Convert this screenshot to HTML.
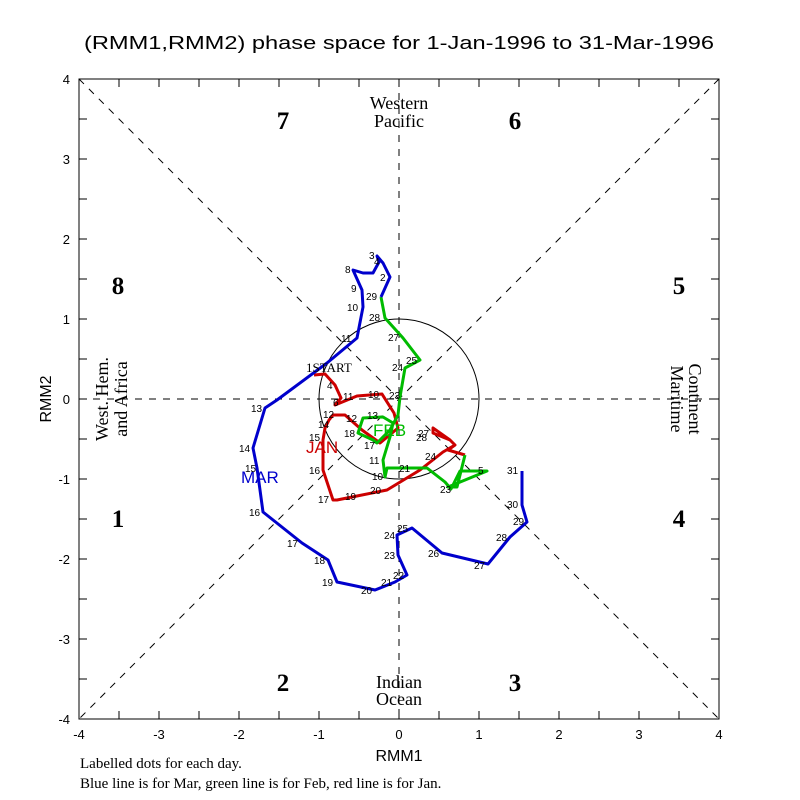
<!DOCTYPE html>
<html><head><meta charset="utf-8"><style>
html,body{margin:0;padding:0;background:#fff;}
svg{display:block;}
.t{font-family:"Liberation Sans",sans-serif;}
.s{font-family:"Liberation Serif",serif;}
.d{font-family:"Liberation Sans",sans-serif;font-size:10px;}
</style></head><body>
<svg width="800" height="800" viewBox="0 0 800 800" xmlns="http://www.w3.org/2000/svg">
<rect width="800" height="800" fill="#fff"/>
<text x="84" y="49" class="t" font-size="18" textLength="630" lengthAdjust="spacingAndGlyphs">(RMM1,RMM2) phase space for  1-Jan-1996 to 31-Mar-1996</text>
<g stroke="#000" stroke-width="1" fill="none">
<rect x="79" y="79" width="640" height="640"/>
<g stroke-dasharray="7,7">
<line x1="79" y1="79" x2="719" y2="719"/>
<line x1="719" y1="79" x2="79" y2="719"/>
<line x1="399" y1="79" x2="399" y2="719"/>
<line x1="79" y1="399" x2="719" y2="399"/>
</g>
<circle cx="399" cy="399" r="80"/>
<path d="M119 719v-8M159 719v-8M199 719v-8M239 719v-8M279 719v-8M319 719v-8M359 719v-8M399 719v-8M439 719v-8M479 719v-8M519 719v-8M559 719v-8M599 719v-8M639 719v-8M679 719v-8
M119 79v8M159 79v8M199 79v8M239 79v8M279 79v8M319 79v8M359 79v8M399 79v8M439 79v8M479 79v8M519 79v8M559 79v8M599 79v8M639 79v8M679 79v8
M79 119h8M79 159h8M79 199h8M79 239h8M79 279h8M79 319h8M79 359h8M79 399h8M79 439h8M79 479h8M79 519h8M79 559h8M79 599h8M79 639h8M79 679h8
M719 119h-8M719 159h-8M719 199h-8M719 239h-8M719 279h-8M719 319h-8M719 359h-8M719 399h-8M719 439h-8M719 479h-8M719 519h-8M719 559h-8M719 599h-8M719 639h-8M719 679h-8"/>
</g>
<g class="t" font-size="13" text-anchor="middle">
<text x="79" y="739">-4</text><text x="159" y="739">-3</text><text x="239" y="739">-2</text><text x="319" y="739">-1</text><text x="399" y="739">0</text><text x="479" y="739">1</text><text x="559" y="739">2</text><text x="639" y="739">3</text><text x="719" y="739">4</text>
</g>
<g class="t" font-size="13" text-anchor="end">
<text x="70" y="84">4</text><text x="70" y="164">3</text><text x="70" y="244">2</text><text x="70" y="324">1</text><text x="70" y="404">0</text><text x="70" y="484">-1</text><text x="70" y="564">-2</text><text x="70" y="644">-3</text><text x="70" y="724">-4</text>
</g>
<text x="399" y="761" class="t" font-size="16" text-anchor="middle">RMM1</text>
<text transform="translate(51,399) rotate(-90)" class="t" font-size="16" text-anchor="middle">RMM2</text>
<g class="s" font-size="25" font-weight="bold" text-anchor="middle">
<text x="283" y="129">7</text><text x="515" y="129">6</text><text x="118" y="294">8</text><text x="679" y="294">5</text>
<text x="118" y="527">1</text><text x="679" y="527">4</text><text x="283" y="691">2</text><text x="515" y="691">3</text>
</g>
<g class="s" font-size="18" text-anchor="middle">
<text x="399" y="109">Western</text><text x="399" y="127">Pacific</text>
<text x="399" y="688">Indian</text><text x="399" y="705">Ocean</text>
<text transform="translate(108,399) rotate(-90)">West. Hem.</text>
<text transform="translate(127,399) rotate(-90)">and Africa</text>
<text transform="translate(671,399) rotate(90)">Maritime</text>
<text transform="translate(689,399) rotate(90)">Continent</text>
</g>
<g class="s" font-size="15">
<text x="80" y="768">Labelled dots for each day.</text>
<text x="80" y="788">Blue line is for Mar, green line is for Feb, red line is for Jan.</text>
</g>
<g fill="none" stroke-width="3" stroke-linejoin="round">
<polyline stroke="#cc0000" points="314,375 325,374 335,385 341,398 335,405 357,396 382,394 394,413 398,428 380,443 362,430 345,415 333,415 329,420 325,428 323,440 323,470 333,500 337,500 352,497 387,490 420,470 443,452 455,445 450,440 433,428 433,433 450,440 455,445 448,450 465,455"/>
<polyline stroke="#00bb00" points="465,455 457,487 448,487 487,471 460,471 451,489 445,482 427,468 413,468 387,468 385,477 383,460 390,437 393,423 383,417 363,418 358,433 373,440 377,443 390,430 398,415 400,397 405,368 420,360 403,338 385,318 381,297"/>
<polyline stroke="#0000cc" points="381,297 390,277 383,263 377,256 379,262 373,273 363,273 353,270 362,290 363,307 357,338 327,363 277,400 265,408 253,448 257,468 263,512 302,543 328,560 337,582 375,590 395,582 407,575 398,555 397,535 412,528 442,553 488,564 510,537 527,522 522,505 522,471"/>
</g>
<g class="t" font-size="17">
<text x="241" y="483" fill="#0000cc">MAR</text>
<text x="306" y="453" fill="#cc0000">JAN</text>
<text x="373" y="436" fill="#00bb00">FEB</text>
</g>
<text x="306" y="372" class="s" font-size="13">1START</text>
<g class="d">
<text x="369" y="259">3</text><text x="374" y="265">4</text><text x="380" y="281">2</text><text x="345" y="273">8</text><text x="351" y="292">9</text><text x="347" y="311">10</text><text x="341" y="342">11</text><text x="366" y="300">29</text><text x="369" y="321">28</text><text x="388" y="341">27</text><text x="392" y="371">24</text><text x="406" y="364">25</text><text x="389" y="399">23</text>
<text x="251" y="412">13</text><text x="239" y="452">14</text><text x="245" y="472">15</text><text x="249" y="516">16</text><text x="287" y="547">17</text><text x="314" y="564">18</text><text x="322" y="586">19</text><text x="361" y="594">20</text><text x="381" y="586">21</text><text x="393" y="579">22</text><text x="384" y="559">23</text><text x="384" y="539">24</text><text x="397" y="532">25</text><text x="428" y="557">26</text><text x="474" y="569">27</text><text x="496" y="541">28</text><text x="513" y="525">29</text><text x="507" y="508">30</text><text x="507" y="474">31</text>
<text x="327" y="389">4</text><text x="333" y="406">6</text><text x="343" y="400">11</text><text x="368" y="398">10</text><text x="323" y="418">12</text><text x="318" y="428">14</text><text x="309" y="441">15</text><text x="309" y="474">16</text><text x="318" y="503">17</text><text x="345" y="500">19</text><text x="370" y="494">20</text>
<text x="367" y="419">13</text><text x="346" y="422">12</text><text x="344" y="437">18</text><text x="364" y="449">17</text><text x="369" y="464">11</text><text x="372" y="480">10</text><text x="399" y="472">21</text><text x="418" y="437">27</text><text x="416" y="441">28</text><text x="425" y="460">24</text><text x="440" y="493">23</text><text x="478" y="474">5</text>
</g>
</svg>
</body></html>
